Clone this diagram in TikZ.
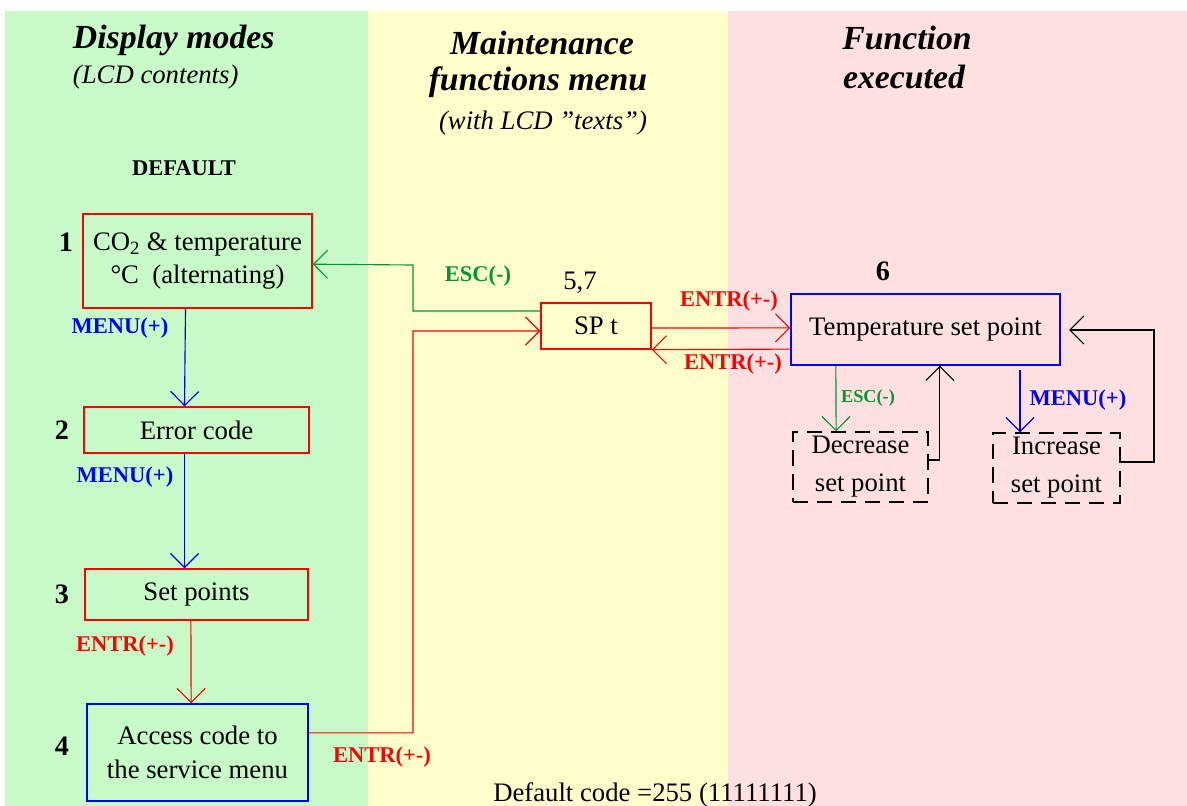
\documentclass[tikz,border=0pt]{standalone}
\usepackage{fontspec}
\setmainfont{Liberation Serif}
\usetikzlibrary{arrows.meta,positioning}

\definecolor{bggreen}{RGB}{200,250,200}
\definecolor{bgyellow}{RGB}{255,255,204}
\definecolor{bgpink}{RGB}{255,224,224}
\definecolor{escgreen}{RGB}{0,150,50}

\begin{document}
\begin{tikzpicture}[x=0.025cm,y=-0.025cm,
    every node/.style={font=\fontsize{19}{24}\selectfont},
    modebox/.style={rectangle,draw=red,line width=1pt,align=center,inner sep=0pt},
    codebox/.style={rectangle,draw=blue,line width=1pt,align=center,inner sep=0pt},
    stepbox/.style={rectangle,draw=black,line width=1pt,dash pattern=on 11pt off 6pt,align=center,inner sep=0pt,font=\fontsize{19}{27}\selectfont},
    title/.style={font=\fontsize{24}{28}\bfseries\itshape\selectfont},
    subtitle/.style={font=\fontsize{19}{24}\itshape\selectfont},
    keylabel/.style={font=\fontsize{16}{18}\bfseries\selectfont},
    number/.style={font=\fontsize{20}{24}\bfseries\selectfont},
    arrow/.style={-{Straight Barb[length=10pt,width=20pt]},line width=0.8pt}
]

\useasboundingbox (0,0) rectangle (1187,806);

% Column backgrounds
\fill[bggreen] (5,11) rectangle (368,806);
\fill[bgyellow] (368,11) rectangle (728,806);
\fill[bgpink] (728,11) rectangle (1187,806);

% Column titles
\node[title,anchor=west] (disptitle) at (68,40) {Display modes};
\node[subtitle,anchor=west] (dispsub) at (68,77) {(LCD contents)};
\node[keylabel] (default) at (184,168) {DEFAULT};
\node[title] (maintitle) at (542,43) {Maintenance};
\node[title] (maintitle2) at (538,82) {functions menu};
\node[subtitle] (mainsub) at (543,123) {(with LCD ''texts'')};
\node[title] (functitle) at (907,38) {Function};
\node[title] (functitle2) at (904,77) {executed};

% Display modes
\node[modebox,minimum width=5.725cm,minimum height=2.35cm] (co2) at (197.5,261) {CO\textsubscript{2} \& temperature\\°C~ (alternating)};
\node[modebox,minimum width=5.625cm,minimum height=1.15cm] (error) at (196.5,430) {Error code};
\node[modebox,minimum width=5.575cm,minimum height=1.275cm] (setpts) at (196.5,594.5) {Set points};
\node[codebox,minimum width=5.525cm,minimum height=2.425cm] (access) at (197.5,752.5) {Access code to\\the service menu};

\node[number] (n1) at (66,242) {1};
\node[number] (n2) at (62,430) {2};
\node[number] (n3) at (62,594) {3};
\node[number] (n4) at (62,746) {4};

% Maintenance menu
\node[modebox,minimum width=2.75cm,minimum height=1.15cm] (spt) at (596,326) {SP t};
\node (n57) at (580,283) {5,7};

% Function executed
\node[codebox,minimum width=6.725cm,minimum height=1.775cm] (tempsp) at (925.5,329.5) {Temperature set point};
\node[number] (n6) at (883,271) {6};
\node[stepbox,minimum width=3.375cm,minimum height=1.75cm] (decr) at (860.5,467) {Decrease\\set point};
\node[stepbox,minimum width=3.175cm,minimum height=1.75cm] (incr) at (1056.5,468) {Increase\\set point};

\node (defcode) at (655,795) {Default code =255 (11111111)};

% Corners of the connectors
\coordinate (entrcorner) at (413,331);
\coordinate (esccorner) at (413,265);
\coordinate (inccorner) at (1154,330);
\coordinate (inctip) at (1069,330);
\coordinate (menustart) at (1020,370);

% Connections
\draw[arrow,blue] ([xshift=-0.3cm]co2.south) -- ([xshift=-0.3cm]error.north);
\draw[arrow,blue] ([xshift=-0.3cm]error.south) -- ([xshift=-0.3cm]setpts.north);
\draw[arrow,red] ([xshift=-0.14cm]setpts.south) -- ([xshift=-0.16cm]access.north);
\draw[arrow,red] ([yshift=0.49cm]access.east) -| (entrcorner) -- ([yshift=-0.125cm]spt.west);
\draw[arrow,escgreen] ([yshift=0.375cm]spt.west) -| (esccorner) -- ([yshift=-0.08cm]co2.east);
\draw[arrow,red] ([yshift=-0.05cm]spt.east) -- ([yshift=0.04cm]tempsp.west);
\draw[arrow,red] ([yshift=-0.49cm]tempsp.west) -- (spt.south east);
\draw[arrow,escgreen] ([xshift=-2.24cm]tempsp.south) -- ([xshift=-0.61cm]decr.north);
\draw[arrow,black] ([yshift=0.175cm]decr.east) -| ([xshift=0.36cm]tempsp.south);
\draw[arrow,blue] (menustart) -- (menustart |- incr.north);
\draw[arrow,black] ([yshift=0.15cm]incr.east) -| (inccorner) -- (inctip);

% Key labels
\node[keylabel,blue] (menu1) at (120,328) {MENU(+)};
\node[keylabel,blue] (menu2) at (125,477) {MENU(+)};
\node[keylabel,red] (entr1) at (125,646) {ENTR(+-)};
\node[keylabel,red] (entr2) at (382,757) {ENTR(+-)};
\node[keylabel,escgreen] (esc1) at (478,276) {ESC(-)};
\node[keylabel,red] (entr3) at (729,301) {ENTR(+-)};
\node[keylabel,red] (entr4) at (733,364) {ENTR(+-)};
\node[keylabel,escgreen,font=\fontsize{13}{15}\bfseries\selectfont] (esc2) at (868,398) {ESC(-)};
\node[keylabel,blue] (menu3) at (1078,400) {MENU(+)};

\end{tikzpicture}
\end{document}
